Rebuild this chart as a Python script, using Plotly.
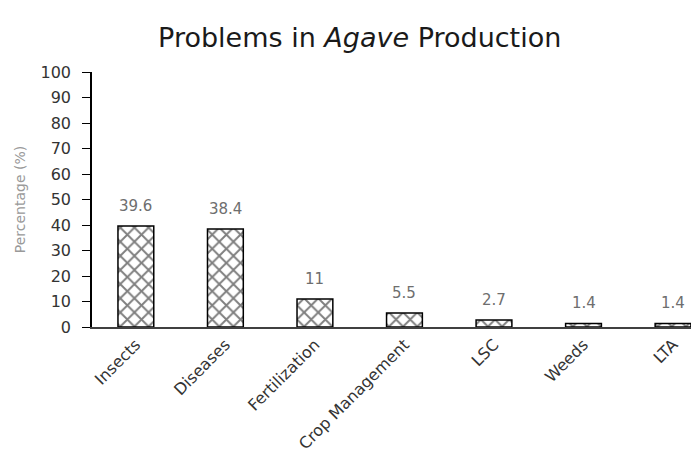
import plotly.graph_objects as go

categories = ["Insects", "Diseases", "Fertilization", "Crop Management", "LSC", "Weeds", "LTA"]
values = [39.6, 38.4, 11, 5.5, 2.7, 1.4, 1.4]
labels = ["39.6", "38.4", "11", "5.5", "2.7", "1.4", "1.4"]
y_ticks = [0, 10, 20, 30, 40, 50, 60, 70, 80, 90, 100]

FONT = "'DejaVu Sans', sans-serif"

fig = go.Figure()
fig.add_trace(go.Bar(
    x=categories, y=values, width=0.4,
    marker=dict(color="white", line=dict(color="black", width=1.5),
                pattern=dict(shape="x", fgcolor="black", bgcolor="white", size=10, solidity=0.35)),
    hoverinfo="skip",
))

for c, v, t in zip(categories, values, labels):
    fig.add_annotation(x=c, y=v, text=t, showarrow=False, yanchor="bottom", yshift=9,
                       font=dict(family=FONT, size=15, color="#6e6e6e"))

fig.update_layout(
    width=691, height=457,
    margin=dict(l=84, r=0, t=64, b=138, autoexpand=False),
    paper_bgcolor="white", plot_bgcolor="white",
    showlegend=False,
    title=dict(text="Problems in <i>Agave</i> Production", x=0.509, xanchor="center",
               y=0.935, yanchor="middle", font=dict(family=FONT, size=27, color="#1a1a1a")),
    font=dict(family=FONT),
)
fig.update_xaxes(range=[-0.49, 6.29], tickangle=-45, showline=True, linecolor="#404040", linewidth=2,
                 ticks="", tickfont=dict(family=FONT, size=16, color="#333333"), showgrid=False,
                 zeroline=False, automargin=False)
fig.update_yaxes(range=[0, 100], tickvals=y_ticks, showline=True, linecolor="black", linewidth=1.5,
                 ticks="outside", ticklen=8, tickcolor="black", showgrid=False, zeroline=False,
                 automargin=False, ticklabelstandoff=8,
                 tickfont=dict(family=FONT, size=16, color="#333333"),
                 title=dict(text="Percentage (%)", font=dict(family=FONT, size=14, color="#999999"),
                            standoff=12))

fig.write_html("out.html")
